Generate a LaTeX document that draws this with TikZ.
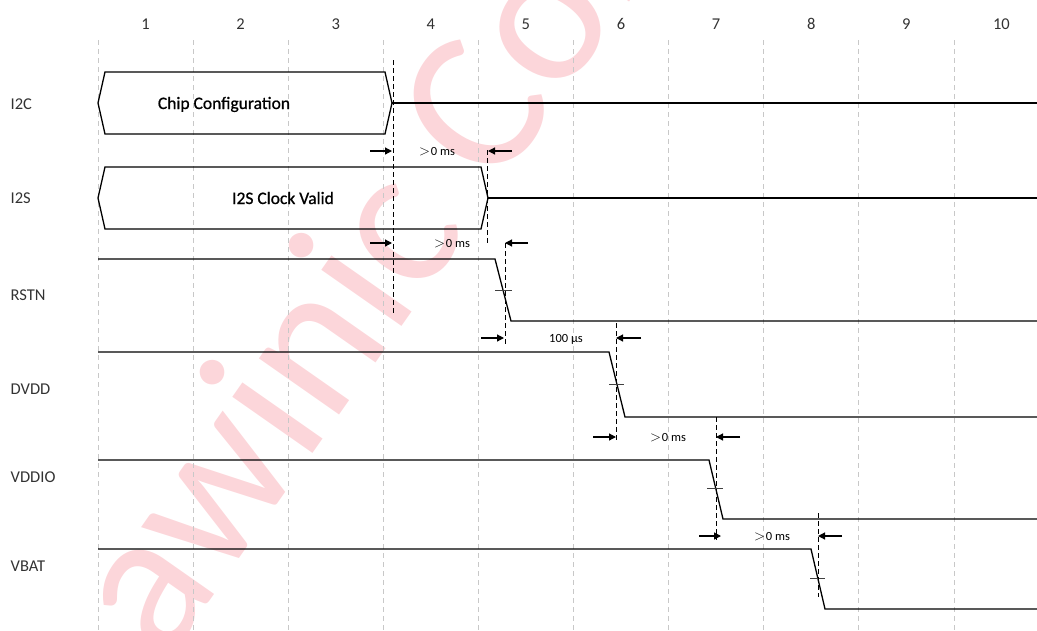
\documentclass[tikz,border=0pt]{standalone}
\usepackage{fontspec}
\setmainfont{Carlito}
\newfontfamily\boxfont[FakeBold=0.8]{Carlito}
\usetikzlibrary{arrows.meta}
\definecolor{wm}{RGB}{252,214,218}
\definecolor{gridc}{RGB}{200,200,200}
\definecolor{txt}{RGB}{50,50,50}
\tikzset{
  gridline/.style={gridc, line width=0.8pt, dash pattern=on 5pt off 4pt},
  sig/.style={black, line width=1.3pt, line join=miter},
  guide/.style={black, line width=1pt, dash pattern=on 5pt off 3pt},
  dimarrow/.style={-{Triangle[length=7pt,width=7pt]}, line width=1.2pt},
  tickmark/.style={black!75, line width=0.8pt},
  siglabel/.style={anchor=base west, inner sep=0pt, text=txt, font=\fontsize{16.5}{18}\selectfont},
  colnum/.style={anchor=base, inner sep=0pt, text=txt, font=\fontsize{16.5}{18}\selectfont},
  boxtext/.style={anchor=base, inner sep=0pt, font=\boxfont\fontsize{17.5}{19}\selectfont},
  timetext/.style={anchor=base, inner sep=0pt, font=\fontsize{12.5}{14}\selectfont},
}
\newcommand{\gtz}{{\fontsize{15}{15}\selectfont$>$}\kern1pt 0 ms}
\begin{document}
\begin{tikzpicture}[x=1pt,y=-1pt]
\useasboundingbox (0,0) rectangle (1037,630);
% watermark
\begin{scope}
\clip (0,0) rectangle (1037,630);
\node[wm, anchor=base west, inner sep=0pt, rotate=55, font=\fontsize{205}{210}\selectfont] (watermark) at (165,665) {awinic Confidential};
\end{scope}
% grid and column numbers
\foreach \k in {0,...,9} {
  \draw[gridline] ({98+95.1*\k},40) -- ({98+95.1*\k},630);
  \pgfmathtruncatemacro{\n}{\k+1}
  \node[colnum] (col\n) at ({145.5+95.1*\k},29) {\n};
}
% signal labels
\node[siglabel] (lI2C) at (10.5,109) {I2C};
\node[siglabel] (lI2S) at (10.5,203) {I2S};
\node[siglabel] (lRSTN) at (10.5,300) {RSTN};
\node[siglabel] (lDVDD) at (10.5,394) {DVDD};
\node[siglabel] (lVDDIO) at (10.5,482) {VDDIO};
\node[siglabel] (lVBAT) at (10.5,571) {VBAT};
% I2C bus
\draw[sig] (98,103) -- (105,72) -- (385,72) -- (392,103) -- (385,134) -- (105,134) -- cycle;
\draw[sig] (392,103) -- (1037,103);
\node[boxtext] (chipcfg) at (224,109) {Chip Configuration};
% I2S bus
\draw[sig] (98,198) -- (105,167) -- (481,167) -- (488,198) -- (481,229) -- (105,229) -- cycle;
\draw[sig] (488,198) -- (1037,198);
\node[boxtext] (i2sclk) at (283,204) {I2S Clock Valid};
% RSTN
\draw[sig] (98,259) -- (495,259) -- (511,321) -- (1037,321);
\draw[tickmark] (495,290) -- (512,290);
% DVDD
\draw[sig] (98,352) -- (609,352) -- (625,417) -- (1037,417);
\draw[tickmark] (609,384) -- (624,384);
% VDDIO
\draw[sig] (98,460) -- (709,460) -- (723,519) -- (1037,519);
\draw[tickmark] (707,488) -- (723,488);
% VBAT
\draw[sig] (98,549) -- (811,549) -- (825,609) -- (1037,609);
\draw[tickmark] (810,578) -- (825,578);
% guide lines
\draw[guide] (393,60) -- (393,315);
\draw[guide] (487,150) -- (487,245);
\draw[guide] (505,243) -- (505,345);
\draw[guide] (616,323) -- (616,442);
\draw[guide] (716,417) -- (716,540);
\draw[guide] (818,513) -- (818,597);
% timing arrows
\coordinate (a1s) at (370,151); \coordinate (a1e) at (392,151);
\coordinate (b1s) at (512,151); \coordinate (b1e) at (488,151);
\draw[dimarrow] (a1s) -- (a1e); \draw[dimarrow] (b1s) -- (b1e);
\node[timetext] (t1) at (437,155.5) {\gtz};
\coordinate (a2s) at (370,243); \coordinate (a2e) at (392,243);
\coordinate (b2s) at (528,243); \coordinate (b2e) at (505,243);
\draw[dimarrow] (a2s) -- (a2e); \draw[dimarrow] (b2s) -- (b2e);
\node[timetext] (t2) at (452,247.5) {\gtz};
\coordinate (a3s) at (481,338); \coordinate (a3e) at (504,338);
\coordinate (b3s) at (641,338); \coordinate (b3e) at (616,338);
\draw[dimarrow] (a3s) -- (a3e); \draw[dimarrow] (b3s) -- (b3e);
\node[timetext] (t3) at (566,342.5) {100 µs};
\coordinate (a4s) at (593,437); \coordinate (a4e) at (616,437);
\coordinate (b4s) at (740,437); \coordinate (b4e) at (716,437);
\draw[dimarrow] (a4s) -- (a4e); \draw[dimarrow] (b4s) -- (b4e);
\node[timetext] (t4) at (668,441.5) {\gtz};
\coordinate (a5s) at (699,536); \coordinate (a5e) at (721,536);
\coordinate (b5s) at (842,536); \coordinate (b5e) at (818,536);
\draw[dimarrow] (a5s) -- (a5e); \draw[dimarrow] (b5s) -- (b5e);
\node[timetext] (t5) at (772,540.5) {\gtz};
\end{tikzpicture}
\end{document}
